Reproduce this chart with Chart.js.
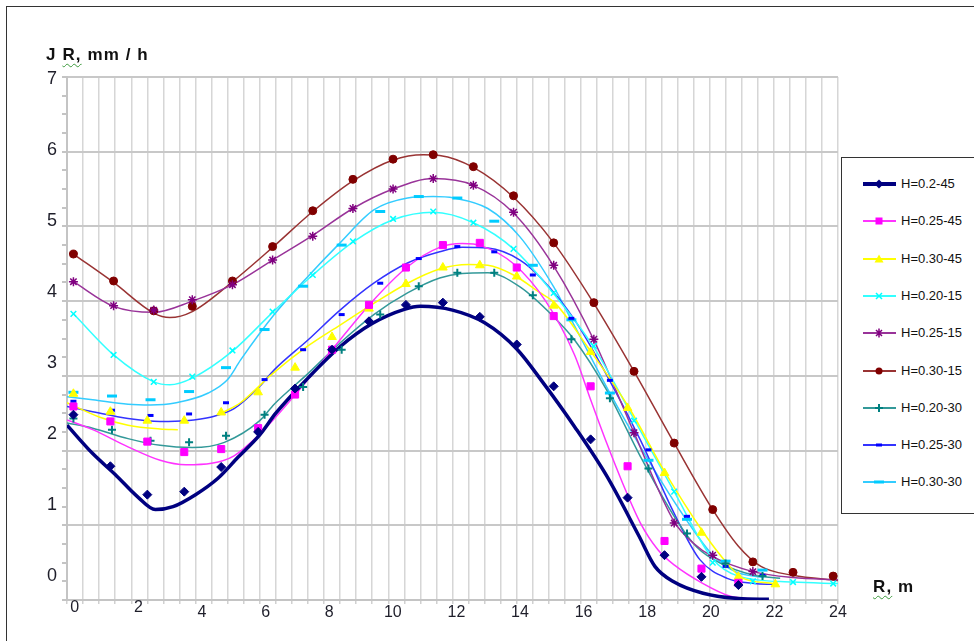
<!DOCTYPE html>
<html>
<head>
<meta charset="utf-8">
<script src="https://cdn.jsdelivr.net/npm/chart.js@4.4.1/dist/chart.umd.min.js"></script>
<style>
  html, body { margin: 0; padding: 0; background: #fff; overflow: hidden; }
  body { width: 974px; height: 641px; position: relative; font-family: "Liberation Sans", Arial, sans-serif; }
  #frame { position: absolute; left: 6px; top: 6px; width: 1200px; height: 900px; border: 1.5px solid #333; }
  #c { position: absolute; left: 0; top: 0; }
  .title { position: absolute; font-weight: bold; font-size: 17px; line-height: 17px; color: #111; white-space: nowrap; letter-spacing: 1.1px; }
  .sq { text-decoration: underline wavy #3c9a3c; text-decoration-thickness: 1px; text-underline-offset: 3px; }
  #legend { position: absolute; left: 841px; top: 157px; width: 200px; height: 355px; border: 1.5px solid #333; background: #fff; }
  #legend .row { position: absolute; left: 0; width: 200px; height: 16px; }
  #legend svg { position: absolute; left: 20px; top: 1px; }
  #legend span { position: absolute; left: 59px; top: 0; font-size: 13px; line-height: 16px; color: #111; white-space: nowrap; }
</style>
</head>
<body>
<div id="frame"></div>
<canvas id="c" width="974" height="641"></canvas>
<div class="title" style="left:46px; top:46px;">J <span class="sq">R,</span> mm / h</div>
<div class="title" style="left:873px; top:578px;"><span class="sq">R,</span> m</div>
<div id="legend"></div>
<script>
// series names, in legend order
const seriesNames = ['H=0.2-45', 'H=0.25-45', 'H=0.30-45', 'H=0.20-15', 'H=0.25-15', 'H=0.30-15', 'H=0.20-30', 'H=0.25-30', 'H=0.30-30'];

// measuring positions, R (m), for the three groups of series
const x45 = [0.2, 1.35, 2.5, 3.65, 4.8, 5.95, 7.1, 8.25, 9.4, 10.55, 11.7, 12.85, 14.0, 15.15, 16.3, 17.45, 18.6, 19.75, 20.9, 22.05];
const x15 = [0.2, 1.45, 2.7, 3.9, 5.15, 6.4, 7.65, 8.9, 10.15, 11.4, 12.65, 13.9, 15.15, 16.4, 17.65, 18.9, 20.1, 21.35, 22.6, 23.85];
const x30 = [0.2, 1.4, 2.6, 3.8, 4.95, 6.15, 7.35, 8.55, 9.75, 10.95, 12.15, 13.3, 14.5, 15.7, 16.9, 18.1, 19.3, 20.5, 21.65];

// measured points (markers)
const navyY = [2.48, 1.79, 1.41, 1.45, 1.78, 2.25, 2.83, 3.35, 3.73, 3.95, 3.98, 3.79, 3.42, 2.86, 2.15, 1.37, 0.60, 0.31, 0.20];
const magentaY = [2.59, 2.39, 2.12, 1.98, 2.02, 2.30, 2.75, 3.35, 3.95, 4.45, 4.75, 4.78, 4.45, 3.80, 2.86, 1.79, 0.79, 0.42, 0.23];
const yellowY = [2.76, 2.52, 2.40, 2.40, 2.51, 2.78, 3.11, 3.52, 3.90, 4.23, 4.45, 4.48, 4.33, 3.94, 3.32, 2.57, 1.70, 0.90, 0.31, 0.21];
const cyanY = [3.83, 3.28, 2.92, 2.99, 3.34, 3.86, 4.35, 4.80, 5.10, 5.20, 5.05, 4.70, 4.11, 3.40, 2.40, 1.45, 0.50, 0.25, 0.24, 0.22];
const purpleY = [4.26, 3.94, 3.88, 4.02, 4.22, 4.55, 4.87, 5.24, 5.50, 5.64, 5.55, 5.19, 4.48, 3.49, 2.24, 1.03, 0.60, 0.38];
const brownY = [4.63, 4.27, 3.87, 3.93, 4.27, 4.73, 5.21, 5.63, 5.90, 5.96, 5.80, 5.41, 4.78, 3.98, 3.06, 2.10, 1.21, 0.51, 0.37, 0.32];
const tealY = [2.43, 2.28, 2.13, 2.11, 2.20, 2.48, 2.85, 3.35, 3.82, 4.20, 4.38, 4.38, 4.08, 3.49, 2.70, 1.76, 0.89, 0.49, 0.32];
const blueY = [2.66, 2.54, 2.47, 2.49, 2.64, 2.95, 3.35, 3.82, 4.24, 4.57, 4.73, 4.66, 4.35, 3.77, 2.94, 2.01, 1.12, 0.45, 0.33];
const lightBlueY = [2.78, 2.73, 2.68, 2.79, 3.11, 3.62, 4.20, 4.75, 5.20, 5.40, 5.38, 5.07, 4.48, 3.75, 2.77, 1.87, 1.08, 0.52, 0.40];

// smoothed curves [R, J]
const navyCurve = [[0,2.34],[0.8,1.96],[1.5,1.68],[2.2,1.38],[2.75,1.21],[3.3,1.25],[4,1.41],[4.7,1.63],[5.3,1.9],[6,2.21],[6.5,2.5],[7.5,2.97],[8.5,3.39],[9.5,3.7],[10.5,3.89],[11,3.93],[12,3.88],[13,3.71],[14,3.36],[14.8,2.92],[15.8,2.32],[16.8,1.66],[17.8,0.86],[18.3,0.45],[18.9,0.24],[19.8,0.09],[20.9,0.02],[21.85,0.01]];
const magentaCurve = [[0,2.41],[0.8,2.28],[1.9,2.05],[2.9,1.87],[3.7,1.81],[4.5,1.83],[5.2,1.93],[6,2.22],[7.15,2.77],[8.25,3.35],[9.45,3.97],[10.6,4.46],[11.6,4.72],[12.3,4.77],[12.9,4.74],[13.9,4.5],[14.9,4.0],[15.8,3.28],[16.3,2.68],[16.8,2.1],[17.3,1.56],[17.85,1.03],[18.4,0.67],[18.9,0.47],[19.8,0.22],[20.65,0.05],[21.4,0.01]];
const yellowCurve = [[0,2.64],[1,2.45],[1.9,2.34],[2.9,2.29],[3.45,2.28],[4.2,null],[4.85,2.51],[5.4,2.64],[6.4,3.03],[7.5,3.4],[8.5,3.68],[9.55,3.97],[10.6,4.24],[11.6,4.43],[12.5,4.49],[13.1,4.48],[13.9,4.35],[14.7,4.12],[15.2,3.97],[16.2,3.39],[17.5,2.57],[18.6,1.72],[19.8,0.91],[20.55,0.49],[21,0.3],[22,0.22]];
const cyanCurve = [[0.2,3.83],[1.45,3.28],[2.7,2.92],[3.2,2.88],[3.9,2.97],[5.15,3.33],[6.4,3.85],[7.65,4.35],[8.9,4.79],[10.15,5.09],[11.4,5.19],[12.65,5.05],[13.9,4.7],[15.15,4.1],[16.4,3.38],[17.65,2.42],[18.9,1.45],[20.1,0.55],[20.9,0.32],[22.6,0.24],[24,0.22]];
const purpleCurve = [[0.2,4.26],[1.45,3.93],[2.7,3.85],[3.9,4.0],[5.15,4.22],[6.4,4.55],[7.65,4.88],[8.9,5.24],[10.15,5.5],[11.4,5.64],[12.65,5.55],[13.9,5.18],[15.15,4.47],[16.4,3.48],[17.65,2.24],[18.9,1.05],[19.5,0.76],[20.1,0.58],[21.35,0.38],[22.6,0.3],[24,0.27]];
const brownCurve = [[0.2,4.63],[1.45,4.25],[2.7,3.84],[3.2,3.78],[3.9,3.86],[5.15,4.26],[6.4,4.72],[7.65,5.2],[8.9,5.61],[10.15,5.89],[11.1,5.96],[11.6,5.95],[12.65,5.79],[13.9,5.39],[15.15,4.78],[16.4,3.97],[17.65,3.06],[18.9,2.1],[20.1,1.21],[20.9,0.72],[21.6,0.45],[22.6,0.33],[24,0.26]];
const tealCurve = [[0,2.37],[0.8,2.3],[1.9,2.16],[2.9,2.07],[3.9,2.04],[4.9,2.11],[6,2.4],[6.45,2.62],[7.5,3.03],[8.5,3.44],[9.55,3.82],[10.6,4.11],[11.6,4.31],[12.3,4.37],[13.1,4.38],[14.1,4.19],[15.15,3.79],[15.8,3.48],[16.8,2.81],[17.85,1.92],[18.9,1.12],[19.6,0.71],[20.35,0.49],[21.4,0.33],[22.2,0.29]];
const blueCurve = [[0,2.59],[0.8,2.52],[1.9,2.43],[2.9,2.39],[3.7,2.4],[4.5,2.45],[5.2,2.56],[6,2.86],[6.45,3.08],[7.5,3.48],[8.5,3.88],[9.55,4.24],[10.6,4.51],[11.6,4.66],[12.3,4.72],[13.1,4.71],[14.1,4.55],[14.75,4.31],[15.8,3.75],[16.8,3.01],[17.85,2.14],[18.9,1.16],[19.7,0.54],[20.55,0.29],[21.4,0.22],[22,0.21]];
const lightBlueCurve = [[0,2.72],[0.8,2.68],[1.9,2.62],[2.6,2.61],[3.4,2.64],[4.4,2.77],[5,2.95],[5.4,3.21],[6.45,3.82],[7.5,4.33],[8.5,4.78],[9.55,5.22],[10.6,5.38],[11.4,5.4],[12.05,5.38],[13.1,5.24],[14.1,4.86],[15.15,4.19],[15.7,3.75],[16.9,2.77],[18.1,1.87],[19.3,1.06],[20.1,0.6],[20.8,0.38],[21.7,0.3]];

// tick labels
const xTickLabels = [0, 2, 4, 6, 8, 10, 12, 14, 16, 18, 20, 22, 24];
const xRaisedLabels = [0, 2];
const yTickLabels = [0, 1, 2, 3, 4, 5, 6, 7];

const series = [
  { xs: x45, ys: navyY,      curve: navyCurve,      marker: 'rectRot',  r: 4.5, bw: 1,   color: '#000080', line: '#000080', lw: 3.5 },
  { xs: x45, ys: magentaY,   curve: magentaCurve,   marker: 'rect',     r: 5,   bw: 1,   color: '#ff00ff', line: '#ff33ff', lw: 1.5 },
  { xs: x45, ys: yellowY,    curve: yellowCurve,    marker: 'triangle', r: 5,   bw: 1,   color: '#ffff00', line: '#ffff00', lw: 1.5 },
  { xs: x15, ys: cyanY,      curve: cyanCurve,      marker: 'crossRot', r: 4,   bw: 1.5, color: '#00ffff', line: '#33ffff', lw: 1.5 },
  { xs: x15, ys: purpleY,    curve: purpleCurve,    marker: 'star',     r: 4.5, bw: 1.5, color: '#800080', line: '#993399', lw: 1.5 },
  { xs: x15, ys: brownY,     curve: brownCurve,     marker: 'circle',   r: 4,   bw: 1,   color: '#800000', line: '#993333', lw: 1.5 },
  { xs: x30, ys: tealY,      curve: tealCurve,      marker: 'cross',    r: 4,   bw: 2,   color: '#008080', line: '#339999', lw: 1.5 },
  { xs: x30, ys: blueY,      curve: blueCurve,      marker: 'line',     r: 3,   bw: 3,   color: '#0000ff', line: '#3333ff', lw: 1.5 },
  { xs: x30, ys: lightBlueY, curve: lightBlueCurve, marker: 'line',     r: 5,   bw: 3,   color: '#00ccff', line: '#33ccff', lw: 1.5 }
];

const datasets = [];
series.forEach((s, k) => {
  datasets.push({
    type: 'scatter',
    label: seriesNames[k],
    data: s.ys.map((y, i) => ({ x: s.xs[i], y })),
    pointStyle: s.marker,
    pointRadius: s.r,
    pointBorderWidth: s.bw,
    backgroundColor: s.color,
    borderColor: s.color,
    xAxisID: 'x',
    yAxisID: 'y',
    order: 0
  });
  datasets.push({
    type: 'line',
    label: seriesNames[k] + ' curve',
    data: s.curve.map(([x, y]) => ({ x, y })),
    borderColor: s.line,
    borderWidth: s.lw,
    pointRadius: 0,
    fill: false,
    cubicInterpolationMode: 'monotone',
    xAxisID: 'x',
    yAxisID: 'y',
    order: 1
  });
});

const xGrid = [];
for (let v = 0; v <= 24; v += 0.5) xGrid.push(v);
const yGrid = [];
for (let v = 0; v <= 7; v += 0.25) yGrid.push(v);

new Chart(document.getElementById('c'), {
  type: 'scatter',
  data: { datasets },
  options: {
    responsive: false,
    animation: false,
    devicePixelRatio: 1,
    layout: { padding: { left: 0, top: 77, right: 136, bottom: 7 } },
    plugins: { legend: { display: false }, tooltip: { enabled: false } },
    scales: {
      x: {
        type: 'linear', position: 'bottom', min: 0, max: 24, weight: 0,
        afterBuildTicks: s => { s.ticks = xGrid.map(v => ({ value: v })); },
        afterFit: s => { s.height = 0; },
        ticks: { display: false },
        grid: { color: '#d6d6d6', lineWidth: 1.5, tickLength: 4, tickColor: '#d0d0d0' },
        border: { color: '#c4c4c4', width: 2 }
      },
      xl: {
        type: 'linear', position: 'bottom', min: -0.245, max: 24, weight: 1,
        afterBuildTicks: s => { s.ticks = xTickLabels.map(v => ({ value: v })); },
        afterFit: s => { s.height = 34; },
        grid: { display: false, drawTicks: false },
        border: { display: false },
        ticks: {
          padding: 5, color: '#1e1e2a', maxRotation: 0, autoSkip: false,
          font: { family: '"Liberation Sans", Arial, sans-serif', size: 16, lineHeight: '5px' },
          callback: v => xRaisedLabels.includes(v) ? [String(v)] : ['', String(v)]
        }
      },
      y: {
        type: 'linear', position: 'left', min: 0, max: 7, weight: 0,
        afterBuildTicks: s => { s.ticks = yGrid.map(v => ({ value: v })); },
        afterFit: s => { s.width = 0; },
        ticks: { display: false },
        grid: {
          color: c => Number.isInteger(c.tick.value) ? '#c8c8c8' : 'rgba(0,0,0,0)',
          lineWidth: 2, tickLength: 5, tickColor: '#c4c4c4'
        },
        border: { color: '#c4c4c4', width: 2 }
      },
      yl: {
        type: 'linear', position: 'left', min: -0.338, max: 7.032, weight: 1,
        afterBuildTicks: s => { s.ticks = yTickLabels.map(v => ({ value: v })); },
        afterFit: s => { s.width = 67; },
        grid: { display: false, drawTicks: false },
        border: { display: false },
        ticks: { padding: 10, color: '#1e1e2a', font: { family: '"Liberation Sans", Arial, sans-serif', size: 18 } }
      }
    }
  }
});

// legend
function markerSvg(style, c, r) {
  switch (style) {
    case 'rectRot': return `<polygon points="17,2.5 21.5,7 17,11.5 12.5,7" fill="${c}"/>`;
    case 'rect': return `<rect x="13.5" y="3.5" width="7" height="7" fill="${c}"/>`;
    case 'triangle': return `<polygon points="17,2.5 21.5,10.5 12.5,10.5" fill="${c}"/>`;
    case 'crossRot': return `<path d="M14 4L20 10M20 4L14 10" stroke="${c}" stroke-width="1.5"/>`;
    case 'star': return `<path d="M14 4L20 10M20 4L14 10M17 2.5V11.5" stroke="${c}" stroke-width="1.5"/>`;
    case 'circle': return `<circle cx="17" cy="7" r="3.5" fill="${c}"/>`;
    case 'cross': return `<path d="M17 3V11M13 7H21" stroke="${c}" stroke-width="2"/>`;
    default: return `<rect x="${17 - r}" y="5.5" width="${2 * r}" height="3" fill="${c}"/>`;
  }
}
const legend = document.getElementById('legend');
series.forEach((s, k) => {
  const row = document.createElement('div');
  row.className = 'row';
  row.style.top = (18 + k * 37.3) + 'px';
  const lw = k === 0 ? 4 : 2;
  row.innerHTML =
    `<svg width="36" height="14" viewBox="0 0 36 14"><line x1="1" y1="7" x2="34" y2="7" stroke="${s.line}" stroke-width="${lw}"/>` +
    markerSvg(s.marker, s.color, s.r) + `</svg><span>${seriesNames[k]}</span>`;
  legend.appendChild(row);
});
</script>
</body>
</html>
